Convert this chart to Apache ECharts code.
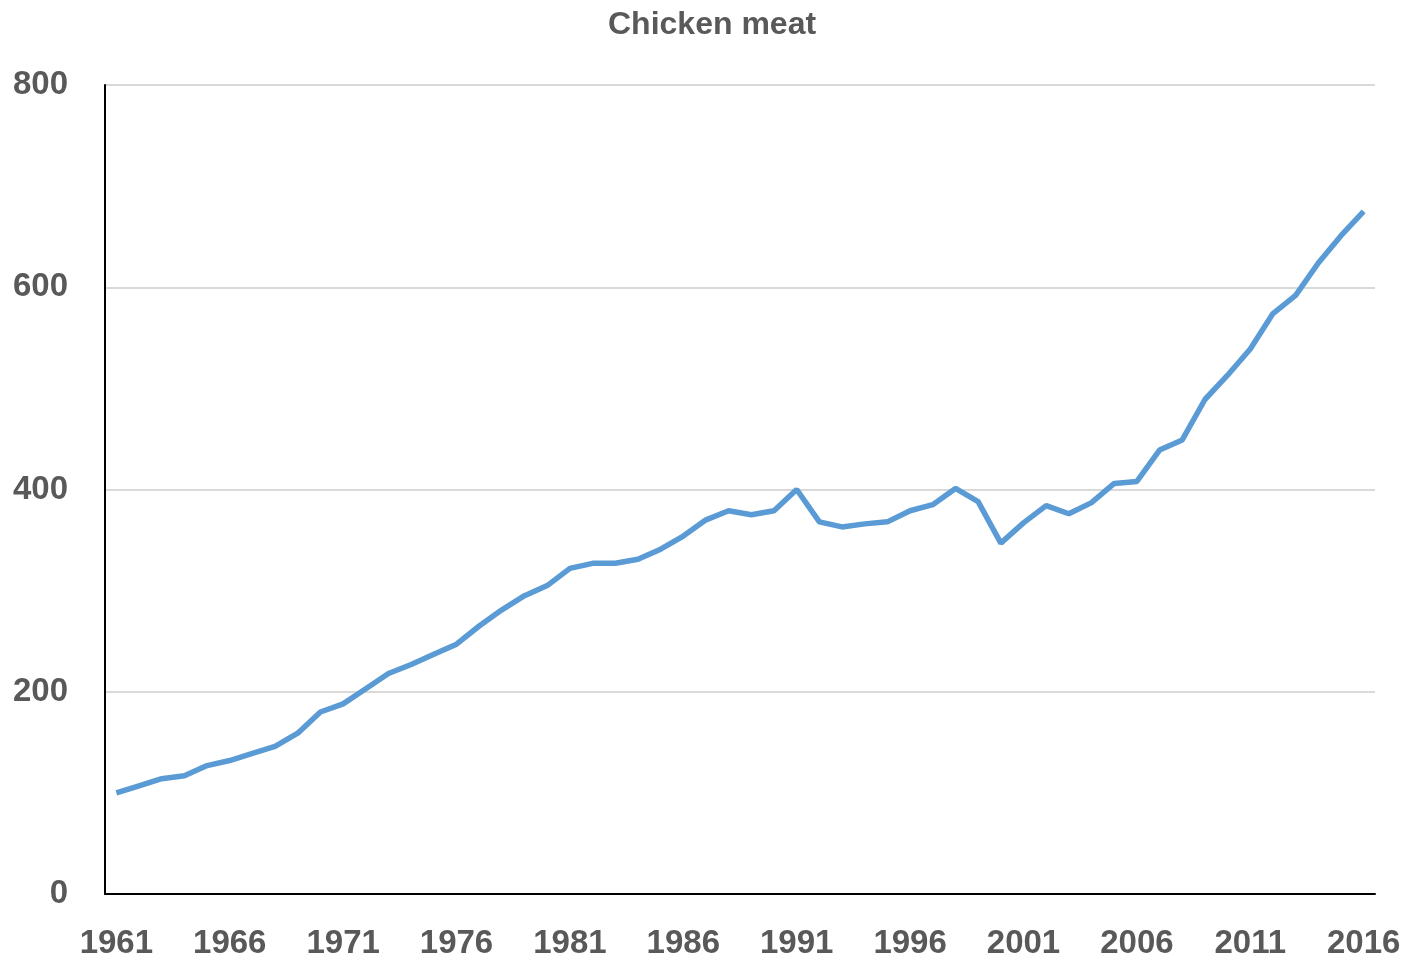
<!DOCTYPE html>
<html>
<head>
<meta charset="utf-8">
<script src="https://cdn.jsdelivr.net/npm/echarts@6/dist/echarts.min.js"></script>
<style>
  html, body { margin: 0; padding: 0; background: #fff; }
  #chart { width: 1410px; height: 960px; }
</style>
</head>
<body>
<div id="chart"></div>
<script>
  // years 1961..2016
  var years = ['1961', '1962', '1963', '1964', '1965', '1966', '1967', '1968', '1969', '1970',
    '1971', '1972', '1973', '1974', '1975', '1976', '1977', '1978', '1979', '1980',
    '1981', '1982', '1983', '1984', '1985', '1986', '1987', '1988', '1989', '1990',
    '1991', '1992', '1993', '1994', '1995', '1996', '1997', '1998', '1999', '2000',
    '2001', '2002', '2003', '2004', '2005', '2006', '2007', '2008', '2009', '2010',
    '2011', '2012', '2013', '2014', '2015', '2016']

  var chickenMeat = [100, 107, 114, 117, 127, 132, 139, 146, 159, 180,
    188, 203, 218, 227, 237, 247, 265, 281, 295, 305,
    322, 327, 327, 331, 341, 354, 370, 379, 375, 379,
    400, 368, 363, 366, 368, 379, 385, 401, 388, 347,
    367, 384, 376, 387, 406, 408, 439, 449, 489, 513,
    539, 574, 592, 624, 651, 675]

  var yTicks = [0, 200, 400, 600, 800]

  var labelColor = '#595959'
  var fontName = 'Liberation Sans'

  var chart = echarts.init(document.getElementById('chart'))
  chart.setOption({
    animation: false,
    title: {
      text: 'Chicken meat',
      left: 603,
      top: 4,
      textStyle: {
        color: labelColor,
        fontFamily: fontName,
        fontWeight: 'bold',
        fontSize: 32
      }
    },
    grid: {
      left: 105,
      right: 35,
      top: 85,
      bottom: 64,
      containLabel: false
    },
    xAxis: {
      type: 'category',
      data: years,
      boundaryGap: true,
      axisLine: { lineStyle: { color: '#000', width: 2 } },
      axisTick: { show: false },
      axisLabel: {
        interval: 4,
        color: labelColor,
        fontFamily: fontName,
        fontWeight: 'bold',
        fontSize: 33,
        margin: 33
      },
      splitLine: { show: false }
    },
    yAxis: {
      type: 'value',
      min: yTicks[0],
      max: yTicks[yTicks.length - 1],
      interval: 200,
      axisLine: { show: true, lineStyle: { color: '#000', width: 2 } },
      axisTick: { show: false },
      axisLabel: {
        color: labelColor,
        fontFamily: fontName,
        fontWeight: 'bold',
        fontSize: 33,
        margin: 37
      },
      splitLine: { lineStyle: { color: '#d9d9d9', width: 2 } }
    },
    series: [{
      type: 'line',
      data: chickenMeat,
      showSymbol: false,
      lineStyle: { color: '#5b9bd5', width: 5.5 },
      itemStyle: { color: '#5b9bd5' }
    }]
  })
</script>
</body>
</html>
